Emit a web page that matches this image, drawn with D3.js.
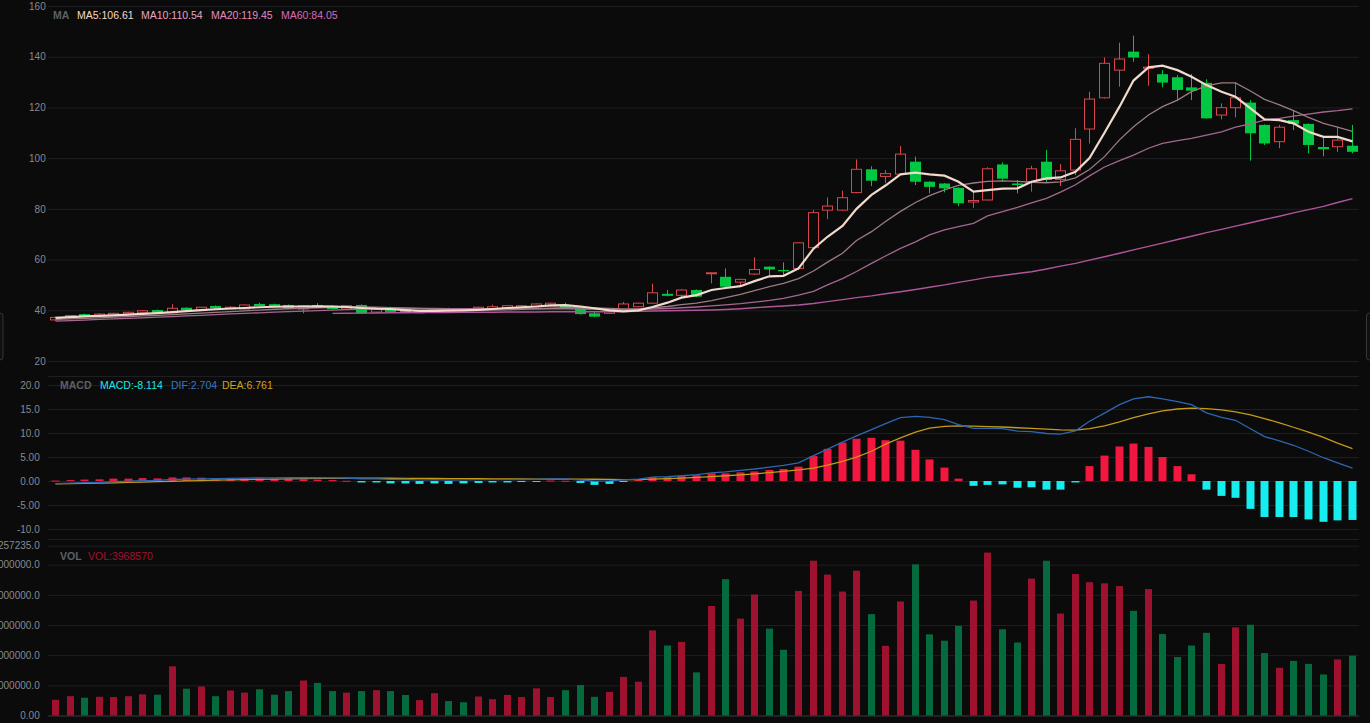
<!DOCTYPE html>
<html>
<head>
<meta charset="utf-8">
<script src="https://cdn.jsdelivr.net/npm/d3@7"></script>
<style>
  body { margin: 0; background: #0b0b0c; overflow: hidden; }
  svg { display: block; }
</style>
</head>
<body>
<svg id="chart"></svg>
<script>
// candles
const opens  = [36.2,37.2,38.5,37.9,38.1,38.5,39.0,40.1,39.0,41.0, 40.1,41.7,40.6,40.5,42.5,42.4,42.1,40.5,42.1,41.8,
                40.5,42.1,39.3,41.2,40.4,39.0,39.6,40.8,40.4,40.1, 40.5,41.0,40.8,41.4,41.7,42.1,41.2,38.8,38.8,39.8,
                41.4,42.8,46.5,45.9,48.0,54.5,53.2,51.1,54.3,57.2, 55.9,56.5,64.7,79.5,79.5,86.4,95.6,92.8,93.7,98.6,
                90.7,90.0,88.3,82.7,83.5,97.5,90.0,90.7,98.6,91.6, 95.3,111.5,123.8,134.7,142.0,135.4,133.1,131.9,127.9,129.7,
                117.0,119.9,121.9,113.1,106.5,115.0,113.5,104.4,104.5,104.9];
const closes = [37.2,37.9,37.7,38.5,38.8,39.2,39.8,39.0,40.8,40.1, 41.2,40.8,41.2,42.1,41.7,41.7,40.8,41.8,41.4,40.5,
                41.8,38.8,40.4,39.4,39.3,39.8,40.5,39.8,39.8,41.2, 41.4,41.8,41.8,42.5,42.8,41.0,38.5,37.5,39.7,42.5,
                42.8,46.9,45.7,48.0,45.4,54.8,49.3,52.2,56.1,56.1, 55.4,66.6,78.5,81.1,84.4,95.6,91.1,93.9,101.6,90.7,
                88.7,88.1,82.2,83.3,95.8,91.9,89.4,95.8,91.4,95.0, 107.4,123.3,137.4,139.1,139.7,135.9,129.8,126.9,126.6,115.7,
                119.9,123.8,109.8,105.8,112.2,113.5,105.2,103.5,107.1,102.5];
const highs  = [37.5,38.1,38.7,38.8,39.0,39.4,40.0,40.3,42.4,41.2, 41.4,41.9,41.6,42.3,43.0,42.6,42.3,42.0,42.8,42.0,
                42.0,42.3,40.6,41.4,40.6,40.0,40.7,41.0,40.6,41.4, 42.2,42.0,42.0,42.7,43.0,43.0,41.4,39.6,39.9,43.3,
                43.0,50.5,48.0,48.2,48.2,54.9,56.5,52.4,60.9,57.4, 58.9,66.8,79.6,84.5,87.2,99.5,96.8,95.3,104.8,100.6,
                90.9,90.2,88.5,86.8,96.4,98.3,91.4,97.0,103.2,97.7, 111.8,126.2,139.7,145.5,148.3,141.0,134.7,132.8,133.2,131.1,
                121.6,129.9,122.9,113.3,113.1,119.0,113.7,108.5,112.4,113.1];
const lows   = [35.9,37.0,37.5,37.7,37.9,38.3,38.8,38.8,38.8,39.9, 39.9,40.6,40.4,40.3,41.5,41.5,40.5,38.8,41.2,40.3,
                40.3,38.6,39.1,39.2,39.0,38.8,39.4,39.6,39.6,39.9, 40.3,40.8,40.6,41.2,41.5,40.8,38.3,37.3,38.6,39.6,
                41.2,42.6,45.5,44.8,45.2,50.6,49.1,49.6,53.9,53.2, 53.9,55.9,64.5,75.9,79.3,86.2,89.0,90.1,93.5,89.4,
                86.1,86.5,81.1,80.4,83.3,90.7,86.1,86.8,90.6,89.0, 93.3,105.8,123.5,128.2,138.0,128.5,127.9,122.6,122.9,115.5,
                115.3,116.1,99.0,105.2,103.9,111.1,101.9,100.7,102.5,101.9];
const volumes = [1040000,1280000,1180000,1240000,1220000,1280000,1400000,1380000,3260000,1780000,
                 1920000,1280000,1660000,1520000,1740000,1380000,1620000,2320000,2160000,1620000,
                 1520000,1620000,1680000,1620000,1360000,1020000,1480000,960000,880000,1260000,
                 1080000,1360000,1220000,1800000,1220000,1680000,2020000,1240000,1560000,2560000,
                 2240000,5640000,4640000,4880000,2860000,7260000,9040000,6420000,8020000,5760000,
                 4360000,8260000,10260000,9340000,8220000,9600000,6720000,4620000,7560000,10020000,
                 5380000,4960000,5940000,7620000,10800000,5720000,4840000,9080000,10260000,6760000,
                 9380000,8840000,8760000,8580000,6940000,8380000,5400000,3880000,4640000,5480000,
                 3420000,5840000,6020000,4140000,3160000,3620000,3420000,2720000,3720000,3968570];

// moving averages as drawn
const ma5  = [37.0,37.3,37.6,37.8,38.0,38.3,38.6,38.9,39.3,39.7, 40.1,40.4,40.7,40.9,41.2,41.4,41.5,41.5,41.6,41.5,
              41.3,40.9,40.6,40.5,40.1,39.8,39.8,39.9,40.0,40.2, 40.5,40.9,41.2,41.5,41.9,42.0,41.5,40.8,40.0,39.6,
              40.0,41.3,43.0,45.0,46.0,48.0,48.8,49.5,51.5,53.4, 53.6,56.5,64.3,69.0,73.3,80.0,85.5,89.2,93.6,94.3,
              93.6,93.1,90.7,86.8,87.4,88.0,88.1,90.7,92.0,92.4, 94.6,100.0,110.0,120.3,130.6,135.8,136.5,134.7,132.1,128.8,
              126.2,124.2,119.6,115.3,115.0,113.7,110.4,108.4,108.4,106.61];
const ma10 = [36.4,36.6,36.8,37.0,37.3,37.5,37.8,38.0,38.3,38.6, 38.9,39.2,39.5,39.8,40.1,40.4,40.6,40.8,41.0,41.2,
              41.3,41.3,41.2,41.0,40.9,40.7,40.5,40.3,40.2,40.1, 40.1,40.2,40.4,40.6,40.8,41.0,41.0,40.9,40.7,40.5,
              40.5,41.0,41.5,42.2,42.8,43.8,45.0,46.3,47.8,49.3, 50.6,52.5,55.5,59.0,62.5,67.5,71.0,75.0,79.0,82.5,
              85.2,87.5,89.3,90.2,90.8,91.0,90.8,90.5,90.3,90.6, 92.2,95.5,100.6,107.2,112.4,117.0,120.3,122.9,126.2,128.5,
              129.7,129.7,126.5,123.2,121.0,118.7,116.1,113.7,112.2,110.54];
const ma20 = [35.7,35.9,36.1,36.4,36.6,36.8,37.0,37.3,37.5,37.8, 38.0,38.3,38.6,38.8,39.0,39.3,39.5,39.7,39.9,40.1,
              40.3,40.5,40.6,40.7,40.7,40.7,40.7,40.6,40.6,40.6, 40.6,40.6,40.6,40.6,40.6,40.6,40.5,40.4,40.3,40.3,
              40.4,40.5,40.7,41.0,41.3,41.7,42.1,42.6,43.2,43.9, 44.7,46.0,47.5,50.0,52.5,55.3,58.5,61.4,64.4,67.0,
              69.7,71.7,73.0,74.3,77.2,78.9,80.6,82.4,84.1,86.6, 89.5,93.0,96.5,99.0,101.2,103.9,105.8,106.9,107.8,109.1,
              110.4,112.2,113.5,115.0,115.7,116.6,117.4,118.2,118.7,119.45];
const ma60 = [null,null,null,null,null,null,null,null,null,null, null,null,null,null,null,null,null,null,null,38.8,
              38.85,38.9,38.95,39.0,39.05,39.1,39.1,39.15,39.2,39.2, 39.25,39.3,39.3,39.35,39.4,39.4,39.4,39.4,39.45,39.5,
              39.6,39.7,39.8,39.9,40.0,40.1,40.3,40.6,41.0,41.4, 41.7,42.1,42.7,43.4,44.2,45.0,45.7,46.5,47.3,48.2,
              49.1,50.0,51.0,52.0,53.0,53.7,54.5,55.2,56.3,57.4, 58.5,59.8,61.1,62.5,63.8,65.2,66.5,67.9,69.2,70.6,
              71.9,73.2,74.5,75.8,77.1,78.4,79.7,81.0,82.5,84.05];

// MACD pane
const dif  = [-0.55,-0.45,-0.35,-0.27,-0.12,-0.05,0.08,0.14,0.32,0.40, 0.45,0.47,0.54,0.60,0.64,0.66,0.71,0.68,0.68,0.66,
              0.61,0.44,0.44,0.33,0.32,0.25,0.28,0.21,0.24,0.27, 0.30,0.28,0.32,0.36,0.46,0.44,0.20,-0.03,0.03,0.25,
              0.40,0.80,0.90,1.10,1.35,1.70,1.90,2.20,2.50,2.90, 3.25,3.80,5.30,6.65,8.10,9.40,10.70,11.95,13.20,13.45,
              13.25,12.80,11.75,10.95,10.95,10.90,10.40,10.30,9.90,9.75, 10.45,12.45,14.15,15.90,17.10,17.55,17.10,16.55,15.90,14.20,
              13.25,12.65,10.90,9.25,8.35,7.45,6.20,4.85,3.80,2.704];
const dea  = [-0.60,-0.55,-0.50,-0.44,-0.37,-0.30,-0.22,-0.14,-0.06,0.02, 0.10,0.17,0.24,0.30,0.36,0.41,0.46,0.50,0.53,0.56,
              0.58,0.59,0.59,0.58,0.57,0.55,0.53,0.51,0.49,0.47, 0.45,0.43,0.42,0.41,0.41,0.41,0.40,0.37,0.33,0.30,
              0.30,0.40,0.50,0.60,0.75,0.90,1.10,1.30,1.50,1.75, 2.00,2.30,2.70,3.30,4.10,5.00,6.20,7.70,9.00,10.20,
              11.00,11.40,11.50,11.45,11.35,11.25,11.10,10.95,10.80,10.65, 10.60,10.90,11.50,12.30,13.20,14.00,14.60,15.00,15.20,15.10,
              14.80,14.40,13.80,13.00,12.10,11.20,10.20,9.10,7.90,6.761];
const macd = [0.1,0.2,0.3,0.35,0.5,0.5,0.6,0.55,0.75,0.75, 0.7,0.6,0.6,0.6,0.55,0.5,0.5,0.35,0.3,0.2,
              0.05,-0.3,-0.3,-0.5,-0.5,-0.6,-0.5,-0.6,-0.5,-0.4, -0.3,-0.3,-0.2,-0.1,0.1,0.05,-0.4,-0.8,-0.6,-0.1,
              0.2,0.8,0.8,1.0,1.2,1.6,1.6,1.8,2.0,2.3, 2.5,3.0,5.2,6.7,8.0,8.8,9.0,8.5,8.4,6.5,
              4.5,2.8,0.5,-1.0,-0.8,-0.7,-1.4,-1.3,-1.8,-1.8, -0.3,3.1,5.3,7.2,7.8,7.1,5.0,3.1,1.4,-1.8,
              -3.1,-3.5,-5.8,-7.5,-7.5,-7.5,-8.0,-8.5,-8.2,-8.114];

// tick labels
const priceTicks = [20, 40, 60, 80, 100, 120, 140, 160];
const macdTicks = [-10, -5, 0, 5, 10, 15, 20];
const macdTickLabels = ["-10.0", "-5.00", "0.00", "5.00", "10.0", "15.0", "20.0"];
const volTicks = [0, 2000000, 4000000, 6000000, 8000000, 10000000, 11257235];
const volTickLabels = ["0.00", "2000000.0", "4000000.0", "6000000.0", "8000000.0", "10000000.0", "11257235.0"];

const W = 1370, H = 723;
const left = 47.7, right = 1359;
const font = "'Liberation Sans', Arial, sans-serif";
const upCol = "#d8464d", downCol = "#00c941";

const svg = d3.select("#chart").attr("width", W).attr("height", H);

const x = d3.scaleBand().domain(d3.range(closes.length)).range([left, right]);
const cx = i => Math.round(x(i) + x.bandwidth() / 2) + 0.5;
const yPrice = d3.scaleLinear().domain([20, 160]).range([361, 6]);
const yMacd = d3.scaleLinear().domain([-12.08, 21.94]).range([539, 375.7]);
const yVol = d3.scaleLinear().domain([0, 11257235]).range([715.5, 545.7]);

function grid(scale, ticks, labels, pad) {
  const g = svg.append("g")
    .attr("transform", `translate(${left},0)`)
    .call(d3.axisLeft(scale).tickValues(ticks).tickFormat((d, i) => labels ? labels[i] : d)
      .tickSize(-(right - left)).tickPadding(pad));
  g.select(".domain").remove();
  g.selectAll(".tick line").attr("stroke", "#1f1f23");
  g.selectAll(".tick text").attr("fill", "#868a90")
    .style("font-size", "10px").style("font-family", font);
  return g;
}

grid(yPrice, priceTicks, null, 2);
grid(yMacd, macdTicks, macdTickLabels, 8);
const vg = grid(yVol, volTicks, volTickLabels, 8);
vg.selectAll(".tick line").filter(d => d === 0).attr("stroke", "#3a3a3f");

// pane borders
[yMacd.range()[1], yMacd.range()[0]].forEach(yy => {
  svg.append("line").attr("x1", left).attr("x2", right)
    .attr("y1", Math.round(yy) + 0.5).attr("y2", Math.round(yy) + 0.5)
    .attr("stroke", "#1f1f23");
});

// candles
const bw = 10;
const cg = svg.append("g");
closes.forEach((c, i) => {
  const o = opens[i], up = c >= o;
  const col = up ? upCol : downCol;
  cg.append("line").attr("x1", cx(i)).attr("x2", cx(i))
    .attr("y1", yPrice(highs[i])).attr("y2", yPrice(lows[i]))
    .attr("stroke", col).attr("stroke-width", 1);
  const top = yPrice(Math.max(o, c)), bot = yPrice(Math.min(o, c));
  const h = Math.max(1, bot - top);
  if (up) {
    cg.append("rect").attr("x", cx(i) - bw / 2).attr("y", top).attr("width", bw).attr("height", h)
      .attr("fill", "#0b0b0c").attr("stroke", col).attr("stroke-width", 1);
  } else {
    cg.append("rect").attr("x", cx(i) - bw / 2 - 0.5).attr("y", top).attr("width", bw + 1).attr("height", h)
      .attr("fill", col);
  }
});

// MA lines
const maLine = d3.line().defined(d => d != null).x((d, i) => cx(i)).y(d => yPrice(d));
[[ma60, "#b0569a", 1.4], [ma20, "#a36890", 1.3], [ma10, "#9c7b82", 1.3], [ma5, "#efdacb", 2.2]].forEach(([arr, col, w]) => {
  svg.append("path").datum(arr).attr("d", maLine)
    .attr("fill", "none").attr("stroke", col).attr("stroke-width", w);
});

// MACD histogram and lines
const hw = 8;
svg.append("g").selectAll("rect").data(macd).join("rect")
  .attr("x", (d, i) => cx(i) - hw / 2)
  .attr("y", d => Math.min(yMacd(0), yMacd(d)))
  .attr("width", hw)
  .attr("height", d => Math.max(1, Math.abs(yMacd(d) - yMacd(0))))
  .attr("fill", d => d >= 0 ? "#f2173f" : "#17ecef");

const macdLine = d3.line().x((d, i) => cx(i)).y(d => yMacd(d));
svg.append("path").datum(dea).attr("d", macdLine).attr("fill", "none").attr("stroke", "#c49a16").attr("stroke-width", 1.3);
svg.append("path").datum(dif).attr("d", macdLine).attr("fill", "none").attr("stroke", "#2e66b2").attr("stroke-width", 1.3);

// volume
const vw = 7;
svg.append("g").selectAll("rect").data(volumes).join("rect")
  .attr("x", (d, i) => cx(i) - vw / 2)
  .attr("y", d => yVol(d))
  .attr("width", vw)
  .attr("height", d => yVol(0) - yVol(d))
  .attr("fill", (d, i) => closes[i] >= opens[i] ? "#9e1230" : "#056a3d");

// legends
function legend(y, items) {
  const t = svg.append("text").attr("y", y).style("font-family", font).style("font-size", "10.5px");
  items.forEach(([s, col, xx, bold]) => {
    t.append("tspan").attr("x", xx).attr("fill", col).style("font-weight", bold ? "700" : "400").text(s);
  });
}
legend(19, [["MA", "#5d6068", 53, true], ["MA5:106.61", "#f3d8c8", 77], ["MA10:110.54", "#eaa2c6", 141],
            ["MA20:119.45", "#e28ac2", 211], ["MA60:84.05", "#d86bb8", 281]]);
legend(389, [["MACD", "#5d6068", 60, true], ["MACD:-8.114", "#1de6e8", 100], ["DIF:2.704", "#3876c4", 171],
             ["DEA:6.761", "#d1a31b", 222]]);
legend(559.5, [["VOL", "#5d6068", 60, true], ["VOL:3968570", "#a3122f", 88]]);

// slider handles at the edges
svg.append("rect").attr("x", -6).attr("y", 313).attr("width", 9).attr("height", 47).attr("rx", 3)
  .attr("fill", "#101013").attr("stroke", "#35353b");
svg.append("rect").attr("x", 1366.5).attr("y", 313).attr("width", 9).attr("height", 47).attr("rx", 3)
  .attr("fill", "#101013").attr("stroke", "#35353b");
</script>
</body>
</html>
